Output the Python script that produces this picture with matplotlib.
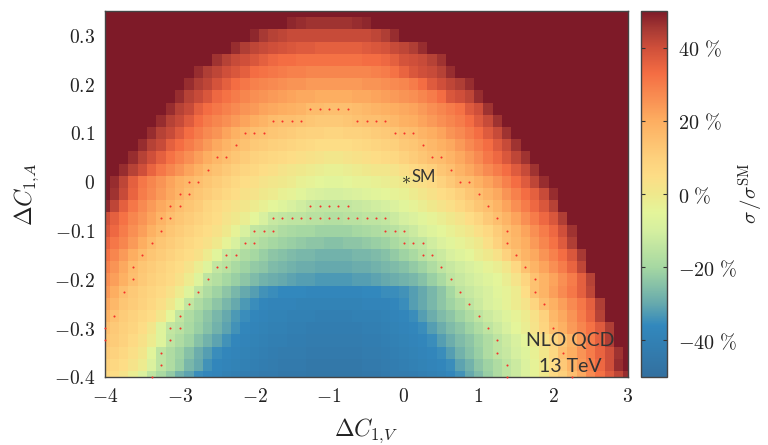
"""Cross section ratio heat map in the (dC1V, dC1A) plane."""

import numpy as np
import matplotlib
matplotlib.use("Agg")
import matplotlib.pyplot as plt
from matplotlib.colors import LinearSegmentedColormap, Normalize

# ratio in percent, top row (dC1A = 0.35) first, columns dC1V = -4 ... 3
row_00 = [50]*57
row_01 = [50]*20 + [48,47,46,46,46,46,46,47,48] + [50]*28
row_02 = [50]*16 + [48,45,43,42,41,41,41,41,41,41,41,41,41,42,44,47] + [50]*25
row_03 = [50]*14 + [47,44,42,41,40, 39,38,37,37,36, 36,36,36,36,37, 38,39,41,42,44, 47] + [50]*22
row_04 = [50]*12 + [46,43,41,40,38, 36,34,33,33,32, 32,32,32,32,32, 32,33,33,34,36, 39,40,41,43,46] + [50]*20
row_05 = [50]*10 + [47,44,42,40,38,36,33,32,31,30, 29,29,28,28,28,28,28,28,28,29, 30,32,35,38,40,41,43,47] + [50]*19
row_06 = [50]*9 + [47,44,42,39,36, 33,31,29,28,27, 26,25,25,24,24, 24,24,24,24,25, 25,26,27,28,30, 33,37,40,42,44, 47] + [50]*17
row_07 = [50]*8 + [47,43,41,38,34, 32,30,28,26,25, 24,23,22,21,21, 20,20,20,20,21, 21,22,23,24,25, 26,28,30,33,38, 40,42,47] + [50]*16
row_08 = [50]*7 + [47,43,41,36,33, 31,29,27,25,24, 22,21,20,19,18, 16,16,15,15,15, 16,17,18,19,20, 21,22,24,26,28, 30,32,37,40,46] + [50]*15
row_09 = [50]*6 + [47,43,41,37,33, 30,28,26,24,22, 20,18,16,15,15, 14,13,12,12,12, 13,14,15,15,16, 17,19,20,22,24, 26,28,30,33,37, 41,46] + [50]*14
row_10 = [50]*5 + [47,43,41,37,33, 30,27,25,22,19, 17,15,14,13,12, 11,10,9,9,8, 8,9,9,10,11, 12,13,15,16,18, 20,22,25,27,30, 33,37,41,46] + [50]*13
row_11 = [50]*4 + [47,43,41,36,33, 30,27,24,21,18, 16,14,12,11,10, 9,8,7,6,5, 5,5,5,6,7, 8,9,10,12,13, 15,17,19,21,24, 27,30,33,37,41, 46] + [50]*12
row_12 = [50]*3 + [47,43,40,36,32, 29,26,23,20,17, 15,13,11,9,8, 7,6,5,4,3, 2,1,1,2,3, 4,5,6,7,9, 11,13,15,16,18, 21,24,27,31,34, 38,42,46] + [50]*11
row_13 = [50]*2 + [47,43,40,35,31, 28,25,22,19,16, 14,12,10,8,7, 5,4,2,1,0, -1,-2,-3,-3,-2, -1,0,1,1,2, 4,6,8,10,13, 15,18,21,24,27, 30,33,37,41,46] + [50]*10
row_14 = [50]*1 + [47,42,36,31,28, 25,22,19,17,15, 13,11,9,7,5, 4,2,1,0,-1, -3,-4,-5,-6,-6, -5,-4,-4,-3,-2, -1,0,2,4,6, 9,12,15,16,19, 22,25,29,33,37, 42,47] + [50]*9
row_15 = [50]*1 + [46,41,35,30,27, 24,21,18,15,13, 11,9,7,5,3, 2,0,-1,-3,-4, -6,-8,-9,-10,-10, -9,-8,-7,-6,-5, -4,-3,-1,1,3, 5,7,10,13,15, 18,21,25,29,33, 36,41,47] + [50]*8
row_16 = [48,42,36,31,27, 24,21,18,15,13, 11,8,6,4,2, 1,-1,-3,-5,-7, -9,-11,-13,-14,-14, -14,-14,-13,-12,-11, -10,-8,-6,-4,-2, 0,2,4,7,10, 13,15,18,22,26, 30,34,38,43] + [50]*8
row_17 = [40,36,32,28,25, 22,18,15,13,11, 9,7,5,2,0, -2,-5,-9,-13,-14, -15,-15,-16,-16,-17, -17,-16,-16,-15,-15, -14,-12,-10,-8,-6, -4,-2,0,2,5, 8,12,15,18,22, 26,30,34,38,44] + [50]*7
row_18 = [38,34,30,26,23, 19,16,13,11,9, 7,5,3,0,-4, -9,-14,-15,-16,-18, -19,-20,-20,-21,-21, -21,-21,-20,-19,-18, -17,-16,-14,-12,-9, -7,-5,-3,-1,1, 4,7,11,15,18, 22,26,30,34,40, 46] + [50]*6
row_19 = [35,31,28,24,20, 16,13,11,9,7, 5,3,0,-4,-9, -14,-16,-18,-20,-21, -22,-23,-24,-24,-25, -25,-24,-24,-23,-22, -21,-19,-17,-15,-14, -11,-8,-6,-4,-2, 0,4,9,14,17, 20,24,28,32,37, 44] + [50]*6
row_20 = [32,28,24,20,16, 13,11,9,7,5, 3,-1,-6,-13,-15, -18,-20,-22,-24,-25, -26,-27,-27,-28,-28, -28,-28,-27,-27,-26, -25,-23,-21,-19,-16, -14,-12,-9,-7,-5, -2,0,3,9,14, 18,21,25,29,33, 38,45] + [50]*5
row_21 = [29,25,21,16,13, 11,9,7,5,2, -2,-7,-14,-16,-19, -21,-23,-24,-26,-27, -28,-29,-29,-30,-30, -30,-30,-29,-29,-28, -27,-26,-25,-23,-21, -18,-15,-13,-11,-9, -7,-4,-2,1,7, 14,18,22,26,30, 35,42] + [50]*5
row_22 = [26,23,19,15,12, 10,8,6,3,-1, -7,-15,-17,-20,-22, -24,-26,-28,-29,-30, -31,-32,-32,-33,-33, -33,-33,-32,-32,-31, -30,-29,-28,-27,-25, -22,-19,-15,-13,-11, -9,-7,-5,-2,2, 8,14,18,22,26, 30,36,43] + [50]*4
row_23 = [24,20,15,12,10, 8,6,3,-1,-7, -14,-18,-21,-24,-27, -30,-32,-34,-35,-36, -36,-36,-37,-37,-37, -37,-37,-37,-36,-36, -35,-35,-34,-32,-30, -27,-24,-20,-15,-13, -11,-9,-6,-4,-1, 5,14,18,23,27, 31,36,42] + [50]*4
row_24 = [21,17,13,11,9, 7,4,0,-6,-14, -18,-21,-24,-27,-30, -33,-35,-37,-38,-38, -38,-39,-39,-39,-39, -39,-39,-39,-38,-38, -38,-37,-35,-32,-30, -27,-24,-21,-18,-15, -12,-9,-7,-4,-1, 2,8,15,19,23, 27,31,36,44] + [50]*3
row_25 = [18,14,11,9,7, 5,1,-5,-14,-18, -21,-24,-27,-30,-33, -35,-37,-38,-39,-39, -40,-40,-40,-41,-41, -41,-41,-40,-40,-40, -39,-38,-37,-35,-32, -29,-26,-24,-21,-18, -15,-12,-10,-7,-4, -1,3,9,17,21, 25,30,35,43] + [50]*3
row_26 = [15,12,10,8,5, 1,-7,-14,-16,-19, -22,-25,-28,-31,-34, -37,-38,-39,-40,-40, -41,-41,-42,-42,-42, -42,-42,-42,-41,-41, -40,-39,-38,-37,-35, -32,-29,-26,-24,-21, -18,-15,-12,-9,-5, -2,2,8,15,19, 24,28,32,37,44] + [50]*2
row_27 = [13,11,9,6,3, -1,-7,-15,-18,-21, -25,-28,-31,-34,-37, -38,-39,-40,-41,-41, -42,-42,-43,-43,-43, -43,-43,-43,-42,-42, -41,-40,-39,-38,-37, -35,-32,-29,-26,-24, -21,-18,-15,-12,-9, -5,-1,3,8,13, 18,24,30,36,44] + [50]*2
row_28 = [11,9,7,4,1, -6,-15,-18,-21,-25, -29,-32,-35,-37,-38, -39,-40,-41,-42,-43, -43,-43,-44,-44,-44, -44,-44,-44,-43,-43, -42,-41,-40,-39,-38, -37,-35,-32,-28,-25, -22,-18,-15,-13,-10, -7,-3,1,7,15, 20,25,30,35,40,46] + [50]*1
row_29 = [9,7,5,2,-1, -8,-15,-18,-22,-27, -30,-34,-37,-38,-39, -40,-41,-42,-43,-44, -44,-44,-45,-45,-45, -45,-45,-45,-44,-44, -43,-42,-41,-40,-39, -38,-37,-35,-31,-28, -24,-21,-18,-15,-12, -8,-4,0,5,12, 18,24,29,34,40,47] + [50]*1
row_30 = [7,5,2,-2,-8, -15,-19,-23,-28,-31, -35,-37,-38,-40,-41, -42,-43,-44,-44,-45, -45,-45,-46,-46,-46, -46,-46,-46,-45,-45, -44,-43,-43,-42,-41, -40,-39,-37,-34,-30, -26,-22,-18,-15,-12, -8,-4,0,6,10, 15,21,27,32,37,42,47]

heat_rows = [row_00, row_01, row_02, row_03, row_04, row_05, row_06, row_07,
             row_08, row_09, row_10, row_11, row_12, row_13, row_14, row_15,
             row_16, row_17, row_18, row_19, row_20, row_21, row_22, row_23,
             row_24, row_25, row_26, row_27, row_28, row_29, row_30]

dc1v = np.linspace(-4, 3, 57)
dc1a = np.linspace(0.35, -0.4, 31)

# columns flagged with a red dot in rows 8 ... 30
dot_columns = [
    [22, 23, 24, 25, 26],
    [18, 19, 20, 21, 27, 28, 29, 30],
    [15, 16, 17, 31, 32, 33],
    [14, 34],
    [12, 13, 35, 36],
    [11, 37],
    [9, 10, 38, 39],
    [8, 9, 40],
    [7, 8, 22, 23, 24, 25, 26, 41],
    [6, 7, 18, 19, 20, 21, 22, 23, 24, 25, 26, 27, 28, 29, 30, 42],
    [6, 16, 17, 18, 30, 31, 32, 43],
    [5, 15, 16, 32, 33, 34, 43],
    [4, 13, 14, 34, 35, 44],
    [3, 12, 13, 36, 45],
    [3, 11, 37, 46],
    [2, 10, 38, 46],
    [9, 39, 47],
    [1, 8, 40],
    [0, 7, 8, 41, 48],
    [0, 7, 42],
    [6, 42, 49],
    [6, 43],
    [5, 43, 50],
]
first_dot_row = 8

x_ticks = [-4, -3, -2, -1, 0, 1, 2, 3]
x_labels = ["$-4$", "$-3$", "$-2$", "$-1$", "$0$", "$1$", "$2$", "$3$"]
y_ticks = [-0.4, -0.3, -0.2, -0.1, 0, 0.1, 0.2, 0.3]
y_labels = ["$-0.4$", "$-0.3$", "$-0.2$", "$-0.1$", "$0$", "$0.1$", "$0.2$", "$0.3$"]
cbar_ticks = [-40, -20, 0, 20, 40]
cbar_labels = [r"$-40\ \%$", r"$-20\ \%$", r"$0\ \%$", r"$20\ \%$", r"$40\ \%$"]

cmap_stops = [(-50, "#33709f"), (-36, "#3288bd"), (-30, "#66a9ad"), (-20, "#a6d8a2"),
              (-10, "#d5efa0"), (-5, "#e4f59a"), (0, "#efe88c"), (5, "#fddd86"),
              (10, "#fdd07c"), (20, "#fdae61"), (33, "#f46d43"), (40, "#cf4f3a"),
              (45, "#a83a34"), (50, "#7e1a28")]

plt.rcParams.update({
    "mathtext.fontset": "cm",
    "font.family": "Lato",
    "text.color": "#333333",
    "xtick.labelcolor": "#222222",
    "ytick.labelcolor": "#222222",
})

cmap = LinearSegmentedColormap.from_list(
    "ratio", [((v + 50) / 100, c) for v, c in cmap_stops], N=512)
norm = Normalize(-50, 50)

W, H = 768, 445
fig = plt.figure(figsize=(W / 100, H / 100), dpi=100)
ax = fig.add_axes([105 / W, 1 - 377 / H, 523 / W, 366 / H])
cax = fig.add_axes([641 / W, 1 - 377 / H, 26 / W, 366 / H])

mesh = ax.pcolormesh(dc1v, dc1a, np.array(heat_rows), cmap=cmap, norm=norm,
                     shading="nearest", antialiased=False)
ax.set_xlim(-4, 3)
ax.set_ylim(-0.4, 0.35)

dot_x = []
dot_y = []
for i, cols in enumerate(dot_columns):
    for c in cols:
        dot_x.append(dc1v[c])
        dot_y.append(dc1a[first_dot_row + i])
ax.scatter(dot_x, dot_y, s=2.2, color="#f5302a", linewidths=0, clip_on=False, zorder=3)

ax.set_xticks(x_ticks, x_labels, fontsize=14)
ax.set_yticks(y_ticks, y_labels, fontsize=14)
ax.tick_params(length=0, pad=7)
ax.set_xlabel(r"$\Delta C_{1,\!V}$", fontsize=17, labelpad=8, color="#222222")
ax.set_ylabel(r"$\Delta C_{1,\!A}$", fontsize=17, labelpad=9, color="#222222")
for s in ax.spines.values():
    s.set_color("#444444")
    s.set_linewidth(1)

ax.text(0.03, 0.006, "$*$", fontsize=13, ha="center", va="center", color="#222222")
ax.text(0.1, 0.01, "SM", fontsize=12, ha="left", va="center")
ax.text(2.23, -0.326, "NLO QCD", fontsize=14, ha="center", va="center")
ax.text(2.23, -0.378, "13 TeV", fontsize=14, ha="center", va="center")

cb = fig.colorbar(mesh, cax=cax, ticks=cbar_ticks)
cb.set_ticklabels(cbar_labels)
cax.tick_params(direction="in", left=True, right=True, length=3, width=0.8,
                color="#333333", labelsize=14.5, pad=8)
cb.outline.set_edgecolor("#444444")
cb.outline.set_linewidth(1)
fig.text(751 / W, 1 - 193 / H, r"$\sigma\,/\sigma^{\mathrm{SM}}$", rotation=90,
         fontsize=15, ha="center", va="center", color="#222222")

fig.savefig("out.png", dpi=100)
